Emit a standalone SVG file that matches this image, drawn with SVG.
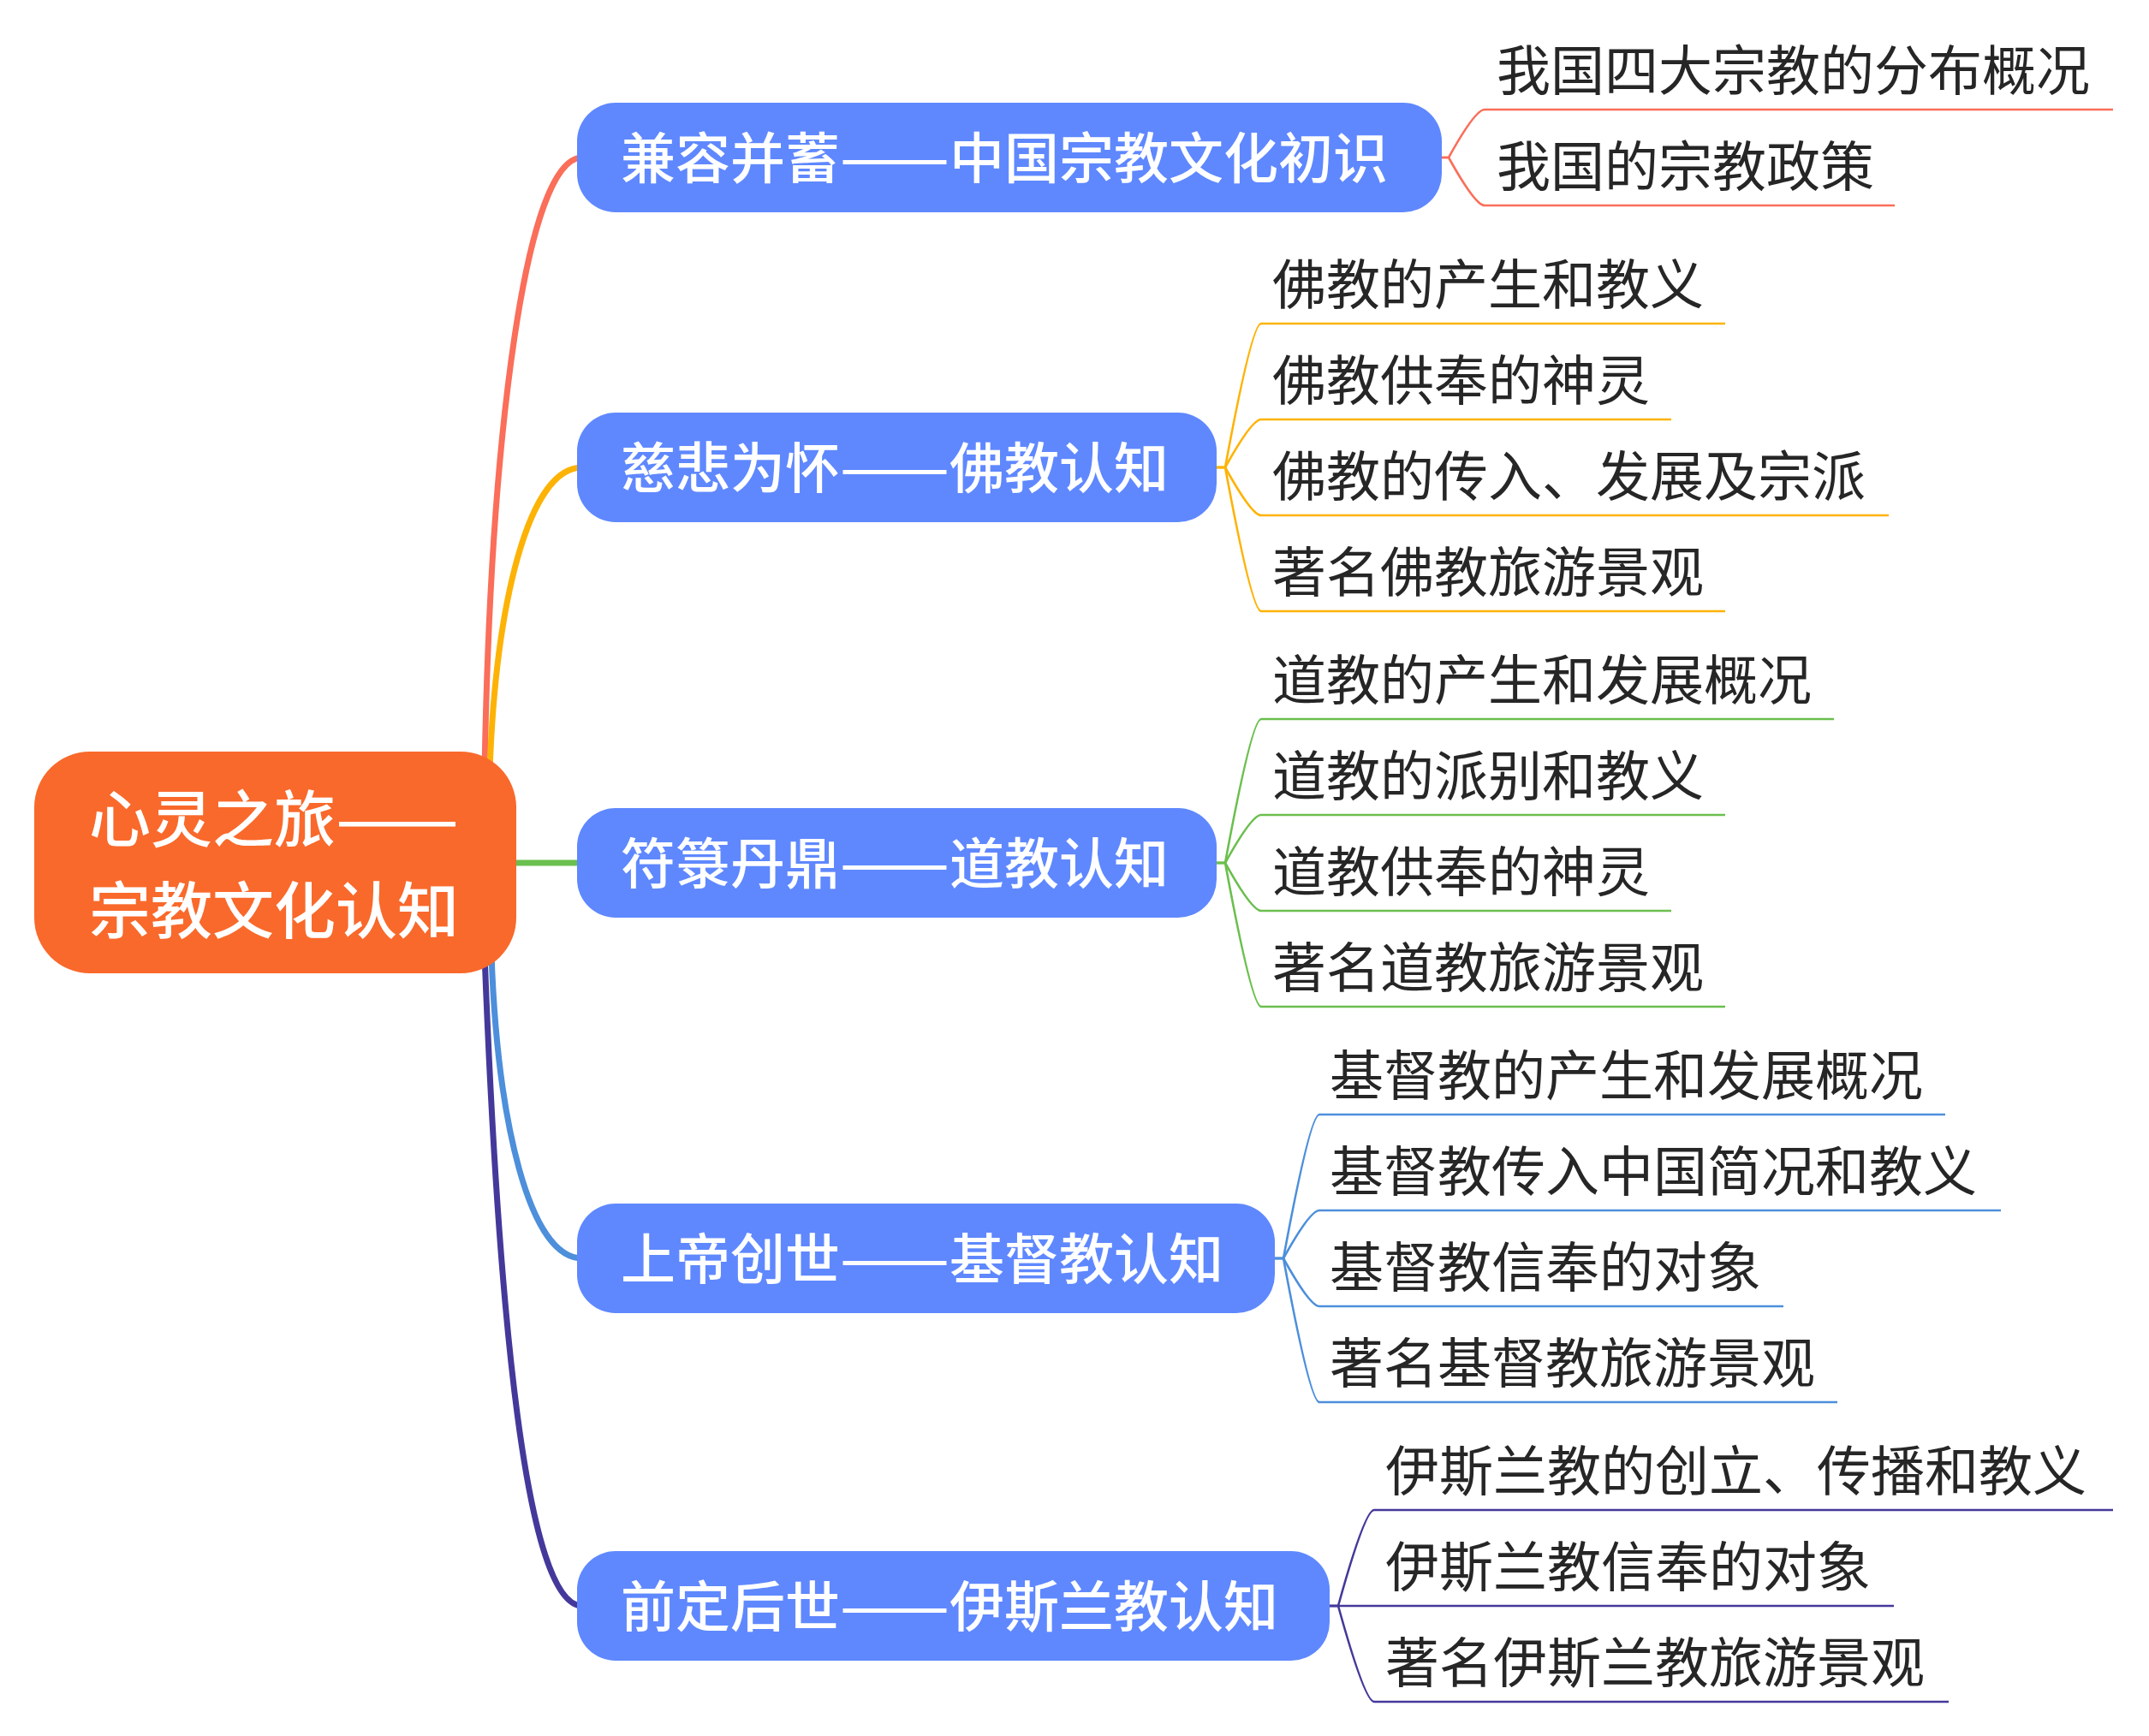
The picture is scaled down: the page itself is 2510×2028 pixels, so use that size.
<svg xmlns="http://www.w3.org/2000/svg" width="2510" height="2028" viewBox="0 0 2510 2028">
<style>
  .l1 { fill: #5F88FF; }
  .t0 { font-family: "Noto Sans CJK SC", "Noto Sans", sans-serif; font-size: 72px; font-weight: 500; fill: #FFFFFF; }
  .t1 { font-family: "Noto Sans CJK SC", "Noto Sans", sans-serif; font-size: 64px; font-weight: 500; fill: #FFFFFF; }
  .t2 { font-family: "Noto Sans CJK SC", "Noto Sans", sans-serif; font-size: 63px; font-weight: 400; fill: #262626; }
  .main { fill: none; stroke-width: 7; stroke-linecap: round; }
  .sub { fill: none; stroke-width: 2.6; }
  .red { stroke: #FA6E5A; }
  .org { stroke: #FDB306; }
  .grn { stroke: #6BBF4E; }
  .blu { stroke: #4D8FDB; }
  .pur { stroke: #44399A; }
</style>
<rect width="2510" height="2028" fill="#FFFFFF"/>
<g id="connectors">
  <path class="main red" d="M566,900 C573,506 614,184 680,184"/>
  <path class="main org" d="M572,900 C579,705 617,546 680,546"/>
  <path class="main grn" d="M590,1008 H680"/>
  <path class="main blu" d="M574,1115 C581,1310 618,1470 680,1470"/>
  <path class="main pur" d="M566,1115 C582,1534 614,1876 680,1876"/>

  <path class="sub red" d="M1682,184 H1692 Q1723,128 1734,128 H2468"/>
  <path class="sub red" d="M1682,184 H1692 Q1723,240 1734,240 H2213"/>

  <path class="sub org" d="M1421,546 H1431 Q1462,378 1473,378 H2015"/>
  <path class="sub org" d="M1421,546 H1431 Q1462,490 1473,490 H1952"/>
  <path class="sub org" d="M1421,546 H1431 Q1462,602 1473,602 H2206"/>
  <path class="sub org" d="M1421,546 H1431 Q1462,714 1473,714 H2015"/>

  <path class="sub grn" d="M1421,1008 H1431 Q1462,840 1473,840 H2142"/>
  <path class="sub grn" d="M1421,1008 H1431 Q1462,952 1473,952 H2015"/>
  <path class="sub grn" d="M1421,1008 H1431 Q1462,1064 1473,1064 H1952"/>
  <path class="sub grn" d="M1421,1008 H1431 Q1462,1176 1473,1176 H2015"/>

  <path class="sub blu" d="M1489,1470 H1499 Q1530,1302 1541,1302 H2272"/>
  <path class="sub blu" d="M1489,1470 H1499 Q1530,1414 1541,1414 H2337"/>
  <path class="sub blu" d="M1489,1470 H1499 Q1530,1526 1541,1526 H2083"/>
  <path class="sub blu" d="M1489,1470 H1499 Q1530,1638 1541,1638 H2146"/>

  <path class="sub pur" d="M1553,1876 H1563 Q1594,1764 1605,1764 H2468"/>
  <path class="sub pur" d="M1553,1876 H2212"/>
  <path class="sub pur" d="M1553,1876 H1563 Q1594,1988 1605,1988 H2276"/>
</g>
<g id="root">
  <rect x="40" y="878" width="563" height="259" rx="65" ry="65" fill="#F9692B"/>
  <text class="t0" x="104" y="983">心灵之旅<tspan x="392" textLength="144" lengthAdjust="spacingAndGlyphs">——</tspan></text>
  <text class="t0" x="104" y="1090">宗教文化认知</text>
</g>
<g id="n1">
  <rect class="l1" x="674" y="120" width="1010" height="128" rx="45" ry="45"/>
  <text class="t1" x="725" y="208">兼容并蓄<tspan x="981" textLength="128" lengthAdjust="spacingAndGlyphs">——</tspan><tspan x="1109">中国宗教文化初识</tspan></text>
</g>
<g id="n2">
  <rect class="l1" x="674" y="482" width="747" height="128" rx="45" ry="45"/>
  <text class="t1" x="725" y="570">慈悲为怀<tspan x="981" textLength="128" lengthAdjust="spacingAndGlyphs">——</tspan><tspan x="1109">佛教认知</tspan></text>
</g>
<g id="n3">
  <rect class="l1" x="674" y="944" width="747" height="128" rx="45" ry="45"/>
  <text class="t1" x="725" y="1032">符箓丹鼎<tspan x="981" textLength="128" lengthAdjust="spacingAndGlyphs">——</tspan><tspan x="1109">道教认知</tspan></text>
</g>
<g id="n4">
  <rect class="l1" x="674" y="1406" width="815" height="128" rx="45" ry="45"/>
  <text class="t1" x="725" y="1494">上帝创世<tspan x="981" textLength="128" lengthAdjust="spacingAndGlyphs">——</tspan><tspan x="1109">基督教认知</tspan></text>
</g>
<g id="n5">
  <rect class="l1" x="674" y="1812" width="879" height="128" rx="45" ry="45"/>
  <text class="t1" x="725" y="1900">前定后世<tspan x="981" textLength="128" lengthAdjust="spacingAndGlyphs">——</tspan><tspan x="1109">伊斯兰教认知</tspan></text>
</g>
<g id="n1-1"><text class="t2" x="1748" y="105">我国四大宗教的分布概况</text></g>
<g id="n1-2"><text class="t2" x="1748" y="217">我国的宗教政策</text></g>
<g id="n2-1"><text class="t2" x="1486" y="355">佛教的产生和教义</text></g>
<g id="n2-2"><text class="t2" x="1486" y="467">佛教供奉的神灵</text></g>
<g id="n2-3"><text class="t2" x="1486" y="579">佛教的传入、发展及宗派</text></g>
<g id="n2-4"><text class="t2" x="1486" y="691">著名佛教旅游景观</text></g>
<g id="n3-1"><text class="t2" x="1486" y="817">道教的产生和发展概况</text></g>
<g id="n3-2"><text class="t2" x="1486" y="929">道教的派别和教义</text></g>
<g id="n3-3"><text class="t2" x="1486" y="1041">道教供奉的神灵</text></g>
<g id="n3-4"><text class="t2" x="1486" y="1153">著名道教旅游景观</text></g>
<g id="n4-1"><text class="t2" x="1553" y="1279">基督教的产生和发展概况</text></g>
<g id="n4-2"><text class="t2" x="1553" y="1391">基督教传入中国简况和教义</text></g>
<g id="n4-3"><text class="t2" x="1553" y="1503">基督教信奉的对象</text></g>
<g id="n4-4"><text class="t2" x="1553" y="1615">著名基督教旅游景观</text></g>
<g id="n5-1"><text class="t2" x="1618" y="1741">伊斯兰教的创立、传播和教义</text></g>
<g id="n5-2"><text class="t2" x="1618" y="1853">伊斯兰教信奉的对象</text></g>
<g id="n5-3"><text class="t2" x="1618" y="1965">著名伊斯兰教旅游景观</text></g>
</svg>
